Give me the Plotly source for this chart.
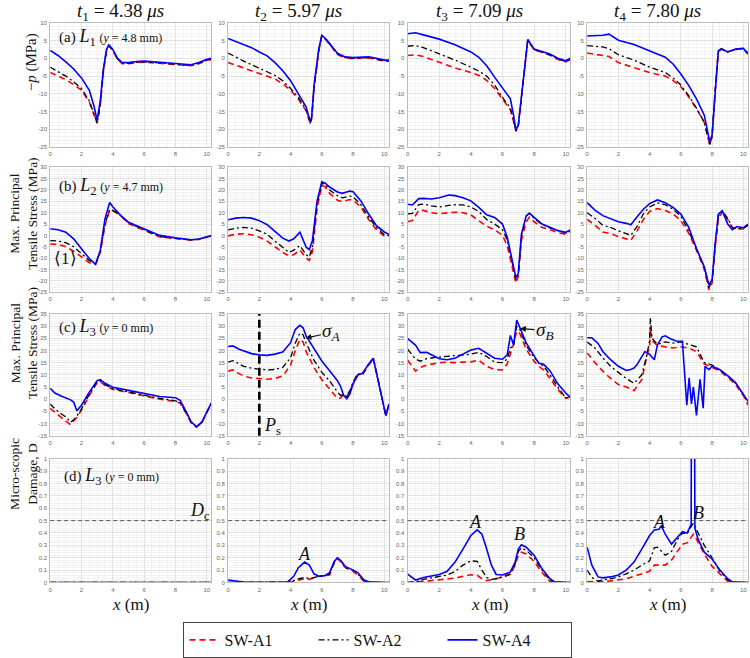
import plotly.graph_objects as go
from plotly.subplots import make_subplots

# ---------------- data ----------------
# row (a): -p (MPa) along L1
X_a1 = [0, 0.5, 1, 1.5, 2, 2.5, 2.8, 3.0, 3.2, 3.4, 3.6, 3.75, 4, 4.3, 4.6, 5, 5.5, 6, 7, 8, 8.5, 9, 9.5, 10, 10.3]
A4_a1 = [2.2, 0.8, -1, -3, -5.5, -9, -13.5, -17.5, -12, -3, 2.5, 3.8, 2.5, 0, -1.2, -1.2, -0.9, -0.8, -1.1, -1.5, -1.7, -1.8, -1.2, -0.3, 0]
A2_a1 = [-2.5, -3.7, -5, -6.6, -8.5, -12, -15.5, -18.2, -13, -3.5, 2.3, 3.6, 2.3, -0.2, -1.4, -1.4, -1.1, -1.0, -1.3, -1.7, -1.9, -2.0, -1.4, -0.5, -0.2]
A1_a1 = [-4, -5, -6, -7.4, -9, -12.3, -15.8, -18.3, -13.2, -3.7, 2.2, 3.5, 2.2, -0.3, -1.5, -1.5, -1.2, -1.1, -1.4, -1.8, -2.0, -2.1, -1.5, -0.6, -0.3]

X_a2 = [0, 0.5, 1, 1.5, 2, 2.5, 3, 3.5, 4, 4.5, 5, 5.25, 5.35, 5.5, 5.8, 6, 6.3, 7, 7.5, 8, 9, 9.5, 10, 10.3]
A4_a2 = [5.6, 4.8, 4.0, 3.0, 1.8, 0.7, -1.2, -3.5, -6.3, -10, -13.7, -17.7, -16.5, -7.7, 2.5, 6.5, 5.3, 1.4, 0.4, 0.2, 0.4, 0, -0.5, -0.5]
A2_a2 = [1.5, 0.3, -0.8, -1.8, -2.8, -3.8, -4.8, -6.3, -8.5, -11, -14.5, -18.3, -17, -8.5, 2, 6.3, 5.1, 1.2, 0.2, 0, 0.2, -0.2, -0.7, -0.7]
A1_a2 = [-1.2, -2, -2.8, -3.5, -4.2, -5, -5.8, -7.2, -9, -11.5, -14.8, -18.3, -17, -8.5, 2, 6.2, 5, 1.1, 0.1, -0.1, 0.1, -0.3, -0.8, -0.8]

X_a3 = [0, 0.5, 1, 2, 3, 4, 4.5, 5, 5.5, 6, 6.5, 6.7, 6.85, 7, 7.3, 7.6, 8, 9, 9.5, 10, 10.3]
A4_a3 = [6.9, 7.2, 6.6, 5.4, 3.8, 1.8, 0.3, -2.1, -5.3, -8.4, -11.4, -16, -20.2, -18.8, -5.8, 5.3, 2.6, 1.2, 0, -0.7, 0]
A2_a3 = [3.4, 3.6, 3.0, 1.3, -0.5, -2.5, -3.6, -5, -7.5, -11, -14, -17.5, -20.5, -19, -6, 5.2, 2.5, 1.0, -0.2, -0.9, -0.3]
A1_a3 = [0.8, 1.0, 0.5, -1.2, -2.7, -4.0, -4.8, -6.2, -8.5, -11.5, -14.5, -17.8, -20.5, -19, -6, 5.1, 2.4, 0.9, -0.3, -1.0, -0.3]

X_a4 = [0, 0.5, 1, 1.4, 2, 3, 4, 5, 5.5, 6, 6.5, 7, 7.5, 7.85, 8, 8.2, 8.4, 8.6, 9, 9.5, 10, 10.3]
A4_a4 = [6.3, 6.3, 6.5, 6.8, 5.1, 3.9, 2.1, 0.3, -1.6, -4.4, -7.6, -11.4, -16, -23.5, -21.6, -8.6, 2.1, 2.7, 1.8, 2.6, 2.8, 1.4]
A2_a4 = [3.6, 3.5, 3.2, 2.7, 1.0, -0.5, -2.5, -4.0, -5.5, -7.5, -10.5, -14, -18, -24.3, -22, -9, 2, 2.6, 1.8, 2.5, 2.8, 1.3]
A1_a4 = [1.5, 1.2, 0.9, 0.5, -1.2, -2.5, -4, -5, -6.2, -8, -10.8, -14.2, -18, -24.3, -22, -9, 2, 2.6, 1.8, 2.5, 2.7, 1.2]

# row (b): max principal tensile stress along L2
X_b1 = [0, 0.5, 1, 1.5, 2, 2.5, 2.9, 3.2, 3.5, 3.8, 4, 4.5, 5, 6, 7, 8, 9, 9.5, 10, 10.3]
A4_b1 = [2.9, 2.5, 1.4, -1.5, -5.9, -10.2, -12.7, -6.6, 7.2, 14.5, 12.6, 8.7, 5.8, 2.9, 0, -1.1, -1.9, -1.6, -0.7, 0]
A2_b1 = [-2.3, -2.5, -3.2, -5, -8, -11, -12.7, -7, 5, 11.5, 11, 9, 5.5, 2.5, -0.5, -1.3, -2.0, -1.7, -0.8, -0.1]
A1_b1 = [-3.8, -4, -5, -7, -9.5, -12, -12.7, -7.5, 4.5, 11, 10.8, 8.8, 5.2, 2.3, -0.7, -1.4, -2.1, -1.8, -0.9, -0.2]

X_b2 = [0, 0.5, 1, 1.5, 2, 2.5, 3, 3.5, 3.9, 4.2, 4.6, 5, 5.2, 5.4, 5.7, 6, 6.2, 6.5, 7, 7.3, 7.8, 8, 8.5, 9, 9.5, 10, 10.3]
A4_b2 = [6.9, 7.6, 7.9, 7.6, 6.5, 4.7, 1.8, -1.2, -2.5, -1.5, 1.4, -5.2, -6.3, -2.2, 15.2, 23.6, 23.1, 21.3, 19.1, 18.5, 19.5, 19.2, 15.2, 9.4, 4.3, 1.5, 0.5]
A2_b2 = [2.4, 3.2, 3.5, 3.2, 2, 0.5, -2.5, -5.5, -7.5, -6.5, -4.5, -8.5, -9.5, -5, 14, 23, 22.5, 20, 17.5, 16.5, 17.3, 17, 13.5, 8, 3.5, 0.3, 0]
A1_b2 = [-0.2, 0.5, 0.7, 0.3, -0.8, -2.5, -5, -7.5, -9, -8.5, -6.5, -10, -11, -7, 12, 22, 21.5, 18.5, 15.5, 14.8, 15.8, 15.5, 12.5, 7, 2.5, -0.3, -0.3]

X_b3 = [0, 0.3, 0.7, 1, 1.5, 2, 2.6, 3, 3.5, 4, 4.5, 5, 5.5, 6, 6.3, 6.6, 6.85, 7.0, 7.2, 7.5, 7.7, 8, 8.5, 9, 9.5, 10, 10.3]
A4_b3 = [13.7, 13.4, 16.2, 16.3, 16, 16.6, 17.8, 17.5, 16.6, 15.2, 12.3, 9.1, 7.9, 5.0, -0.8, -10.9, -18.7, -16.7, 0.7, 8.6, 9.8, 7.9, 5, 3.6, 2.1, 1.4, 2.4]
A2_b3 = [9.5, 9.7, 13.5, 13.8, 13, 12.5, 13.2, 13.5, 13.4, 12.5, 10.5, 7, 5, 2.5, -2, -12, -19.5, -17, 0, 8.5, 9.7, 7.5, 4.8, 3.3, 2, 1, 2]
A1_b3 = [6, 6.5, 11, 11, 10, 9.5, 10, 10.2, 10, 9, 6.5, 4, 2.5, 0, -4.5, -13, -21, -18, -2, 6, 8, 6, 3.5, 2.5, 1.2, 0.5, 2]

X_b4 = [0, 0.5, 1, 1.5, 2, 2.5, 2.8, 3.2, 3.6, 4, 4.5, 5, 5.5, 6, 6.5, 7, 7.5, 7.8, 8, 8.2, 8.4, 8.65, 9, 9.3, 9.6, 10, 10.3]
A4_b4 = [14.4, 11.1, 8.7, 7.2, 6.0, 5.3, 4.7, 8.2, 11.5, 14, 15.6, 14.4, 12.3, 9.4, 3.6, -5.8, -13.8, -21.8, -19.6, -3.7, 9.3, 10.8, 5, 2.5, 3.9, 3.3, 5]
A2_b4 = [10, 7.5, 4.5, 3.5, 2, 0.8, 0, 4, 9.5, 12.5, 14.3, 13.5, 11.5, 8.5, 2, -6, -14, -23, -20, -4, 8.5, 10.8, 7.5, 3.5, 3, 3, 4.5]
A1_b4 = [7, 4.5, 1.5, 0.8, -0.5, -1.5, -2.2, 2, 7, 10.5, 11.8, 11, 9.5, 6.5, 1, -6.5, -15, -24, -21, -5, 7, 10.5, 7, 3, 3, 2.8, 4.5]

# row (c): max principal tensile stress along L3
X_c1 = [0, 0.3, 0.7, 1, 1.3, 1.5, 1.7, 2, 2.5, 3, 3.2, 3.5, 4, 5, 6, 7, 8, 8.3, 8.7, 9, 9.35, 9.7, 10, 10.3]
A4_c1 = [4.5, 2.5, 1.3, 0.6, -0.3, -1.2, -4.8, -2.5, 2.9, 7.6, 8, 6.5, 4.9, 3.6, 2.2, 1.1, 0.6, -0.5, -5.3, -9.3, -11.3, -9.3, -5.3, -1.5]
A2_c1 = [-2, -4, -6, -7.3, -9.5, -8.5, -7, -4, 2, 7.2, 7.5, 6, 4.3, 3, 1.5, 0.3, -0.7, -1.3, -5.8, -9.5, -11.5, -9.5, -5.5, -1.7]
A1_c1 = [-3.8, -5.5, -7.5, -9, -10.5, -9, -7.5, -4.5, 1.5, 6.8, 7.2, 5.7, 4, 2.7, 1.2, 0, -1, -1.6, -6, -9.7, -11.5, -9.5, -5.5, -1.7]

X_c2 = [0, 0.3, 0.7, 1, 1.5, 2, 2.5, 3, 3.5, 4, 4.3, 4.6, 4.8, 5, 5.5, 6, 6.5, 7, 7.2, 7.4, 7.6, 7.8, 8, 8.3, 8.6, 9, 9.3, 9.6, 9.85, 10.1, 10.3]
A4_c2 = [21.6, 21.9, 20.5, 19.8, 18.7, 18.2, 18, 18.5, 19.4, 23.2, 28.6, 30.3, 29.3, 25.9, 20.5, 15.7, 11.7, 7.6, 5.3, 1.5, 0.2, 2.2, 6.3, 9.9, 10.6, 14.4, 16.6, 8, 0, -6.8, -2]
A2_c2 = [15.2, 15.8, 14.5, 13.5, 12.7, 12.2, 12, 12.2, 13, 17, 23, 27.2, 26.5, 23, 16, 11, 7.5, 3, 1.5, 2, 1, 3.5, 7, 10.5, 10, 14.5, 16.8, 8, 0, -6.8, -2]
A1_c2 = [11.5, 12, 10.5, 9.5, 8.7, 8.3, 8.2, 8.5, 9.5, 14, 20, 24.5, 23.5, 19.5, 13, 8, 4, 0.3, 0.5, 2, 1, 3.5, 6.5, 10, 10, 14, 16.8, 8, 0, -6.8, -2]

X_c3 = [0, 0.5, 0.8, 1.2, 1.6, 2, 2.5, 3, 3.5, 4, 4.5, 5, 5.5, 6, 6.3, 6.5, 6.7, 6.9, 7.1, 7.5, 8, 8.3, 8.6, 9, 9.5, 10, 10.3]
A4_c3 = [24.9, 22.2, 19.1, 19.2, 17.9, 16.6, 16.2, 16.8, 18.5, 20.2, 20.9, 18.8, 16.8, 16.4, 18.2, 26.2, 22.2, 32.5, 29.2, 23.1, 17.8, 14.7, 14.3, 11.7, 6.3, 2.5, 0.7]
A2_c3 = [20.5, 16.5, 15.6, 16.6, 17, 17.2, 17.6, 17.8, 18, 18.5, 19.2, 17.5, 15.2, 15, 16.5, 21, 22, 30, 28.5, 22, 17, 15, 13.5, 10, 5, 0.5, 1]
A1_c3 = [16, 11.5, 13, 14, 14.5, 15, 15.2, 15, 15.2, 15.3, 16, 13.5, 12.2, 12, 14.5, 18.5, 22.5, 28, 27, 20.5, 15.5, 13.5, 12, 8.5, 4, 0.3, 1]

X_c4 = [0, 0.5, 1, 1.5, 2, 2.5, 3, 3.5, 3.8, 4, 4.05, 4.15, 4.5, 5, 5.5, 6, 6.5, 7, 7.5, 8, 8.5, 9, 9.5, 10, 10.3]
A2_c4 = [23.5, 21, 17, 13.5, 11, 8.5, 6.5, 10, 17.5, 24, 33.5, 25, 22.5, 23.5, 23, 23.5, 22.5, 21.5, 15, 14, 12, 9.5, 6.5, 2, -1.5]
A1_c4 = [19, 15, 11.5, 8.5, 6, 5, 3.5, 8, 17, 22, 29, 24, 22, 21.5, 21, 21.5, 21, 19.5, 14.5, 13, 11.5, 9, 6, 1.5, -2.5]
XB_c4 = [0, 0.3, 0.7, 1, 1.5, 2, 2.5, 2.8, 3, 3.2, 3.5, 3.7, 4, 4.3, 4.5, 4.8, 5, 5.3, 5.7, 6.1, 6.38, 6.53, 6.68, 6.8, 7.0, 7.23, 7.43, 7.55, 7.8, 8, 8.5, 9, 9.5, 10, 10.3]
A4_c4 = [25.2, 25.2, 22.9, 19.6, 16.2, 13.5, 11.8, 12.2, 12.8, 14.2, 17.5, 19.5, 18.4, 16.2, 22.2, 25.6, 26, 24.9, 23.9, 23.8, -2.5, 8.8, -2, 5, -6.7, 8.1, -3.7, 13.5, 12.1, 13.5, 12.1, 9.7, 6.8, 2.1, -0.9]

# row (d): microscopic damage D along L3
X_d1 = [0, 2, 4, 6, 8, 10.3]
A4_d1 = [0, 0, 0, 0, 0, 0]
A2_d1 = [0, 0, 0, 0, 0, 0]
A1_d1 = [0, 0, 0, 0, 0, 0]

X_d2 = [0, 0.3, 0.7, 1, 2, 3, 3.8, 4.2, 4.5, 4.9, 5.2, 5.5, 5.8, 6.2, 6.5, 6.8, 7, 7.2, 7.5, 8, 8.3, 8.7, 9, 10, 10.3]
A4_d2 = [0.02, 0.015, 0.005, 0.003, 0, 0, 0.003, 0.05, 0.12, 0.165, 0.14, 0.07, 0.05, 0.055, 0.08, 0.17, 0.2, 0.18, 0.13, 0.1, 0.08, 0.02, 0.005, 0, 0]
A2_d2 = [0, 0, 0, 0, 0, 0, 0.003, 0.015, 0.03, 0.04, 0.03, 0.04, 0.05, 0.055, 0.07, 0.17, 0.2, 0.18, 0.12, 0.1, 0.07, 0.015, 0.002, 0, 0]
A1_d2 = [0, 0, 0, 0, 0, 0, 0.002, 0.01, 0.02, 0.03, 0.025, 0.035, 0.05, 0.055, 0.06, 0.16, 0.19, 0.17, 0.12, 0.09, 0.06, 0.01, 0, 0, 0]

X_d3 = [0, 0.5, 1, 1.5, 2, 2.5, 3, 3.5, 4, 4.4, 4.7, 5, 5.3, 5.6, 6, 6.5, 6.8, 7.0, 7.2, 7.5, 8, 8.5, 9, 9.3, 10, 10.3]
A4_d3 = [0.067, 0.02, 0.04, 0.055, 0.065, 0.09, 0.165, 0.27, 0.38, 0.425, 0.39, 0.27, 0.14, 0.065, 0.06, 0.085, 0.165, 0.27, 0.305, 0.285, 0.22, 0.11, 0.03, 0.005, 0, 0]
A2_d3 = [0, 0.005, 0.025, 0.035, 0.045, 0.06, 0.09, 0.14, 0.175, 0.17, 0.1, 0.04, 0.025, 0.03, 0.045, 0.07, 0.15, 0.25, 0.28, 0.26, 0.2, 0.1, 0.02, 0.003, 0, 0]
A1_d3 = [0, 0.002, 0.01, 0.015, 0.02, 0.025, 0.035, 0.05, 0.062, 0.058, 0.03, 0.015, 0.02, 0.03, 0.045, 0.065, 0.14, 0.22, 0.245, 0.23, 0.17, 0.08, 0.01, 0, 0, 0]

X_d4 = [0, 0.3, 0.7, 1, 1.5, 2, 2.5, 3, 3.5, 4, 4.3, 4.5, 4.7, 5, 5.4, 5.8, 6.1, 6.4, 6.8, 7.0, 7.5, 8, 8.5, 9, 9.3, 10, 10.3]
A2_d4 = [0.1, 0.04, 0.01, 0.02, 0.03, 0.045, 0.07, 0.1, 0.14, 0.175, 0.28, 0.285, 0.26, 0.22, 0.25, 0.35, 0.4, 0.395, 0.48, 0.43, 0.3, 0.2, 0.09, 0.02, 0.003, 0, 0]
A1_d4 = [0.005, 0.005, 0.005, 0.01, 0.012, 0.02, 0.03, 0.05, 0.07, 0.09, 0.14, 0.14, 0.14, 0.14, 0.18, 0.26, 0.31, 0.32, 0.39, 0.35, 0.23, 0.13, 0.07, 0.01, 0, 0, 0]
XB_d4 = [0, 0.3, 0.7, 1, 1.5, 2, 2.5, 3, 3.5, 4, 4.3, 4.6, 4.75, 5, 5.4, 5.8, 6.1, 6.4, 6.66, 6.68, 6.87, 6.9, 7.1, 7.5, 8, 8.5, 9, 9.3, 10, 10.3]
A4_d4 = [0.285, 0.14, 0.045, 0.037, 0.045, 0.06, 0.1, 0.165, 0.27, 0.38, 0.425, 0.43, 0.46, 0.39, 0.31, 0.365, 0.41, 0.4, 0.47, 1.6, 1.6, 0.44, 0.35, 0.245, 0.19, 0.1, 0.03, 0.005, 0, 0]

col_titles = ["<i>t</i><sub>1</sub> = 4.38 <i>μs</i>", "<i>t</i><sub>2</sub> = 5.97 <i>μs</i>",
              "<i>t</i><sub>3</sub> = 7.09 <i>μs</i>", "<i>t</i><sub>4</sub> = 7.80 <i>μs</i>"]
y_ranges = [(-25, 10), (-25, 30), (-15, 35), (0, 1)]

panels = [
    [(X_a1, A1_a1, A2_a1, X_a1, A4_a1), (X_a2, A1_a2, A2_a2, X_a2, A4_a2),
     (X_a3, A1_a3, A2_a3, X_a3, A4_a3), (X_a4, A1_a4, A2_a4, X_a4, A4_a4)],
    [(X_b1, A1_b1, A2_b1, X_b1, A4_b1), (X_b2, A1_b2, A2_b2, X_b2, A4_b2),
     (X_b3, A1_b3, A2_b3, X_b3, A4_b3), (X_b4, A1_b4, A2_b4, X_b4, A4_b4)],
    [(X_c1, A1_c1, A2_c1, X_c1, A4_c1), (X_c2, A1_c2, A2_c2, X_c2, A4_c2),
     (X_c3, A1_c3, A2_c3, X_c3, A4_c3), (X_c4, A1_c4, A2_c4, XB_c4, A4_c4)],
    [(X_d1, A1_d1, A2_d1, X_d1, A4_d1), (X_d2, A1_d2, A2_d2, X_d2, A4_d2),
     (X_d3, A1_d3, A2_d3, X_d3, A4_d3), (X_d4, A1_d4, A2_d4, XB_d4, A4_d4)],
]

# ---------------- layout helpers (pixels of the 750x658 page) ----------------
W, H = 750, 658
col_px = [(48.3, 210), (226.7, 388), (406.7, 570), (586.7, 748)]
row_px = [(20, 145.7), (166, 292.3), (314.3, 437.3), (460.7, 585.7)]
SERIF = "Liberation Serif"


def px(x):
    return x / W


def py(y):
    return 1 - y / H


def label(text, x, y, size, **kw):
    d = dict(text=text, x=px(x), y=py(y), xref="paper", yref="paper",
             xanchor="center", yanchor="middle", showarrow=False,
             font=dict(family=SERIF, size=size, color="#111"))
    d.update(kw)
    return d


styles = [("SW-A1", "#ff0000", "6px,4px", 1.6),
          ("SW-A2", "#000000", "6px,3px,2px,3px", 1.3),
          ("SW-A4", "#0000ff", "solid", 1.6)]

fig = make_subplots(rows=4, cols=4)

for r in range(4):
    for c in range(4):
        xs, a1, a2, xb, a4 = panels[r][c]
        for (name, color, dash, w), (x, y) in zip(styles, [(xs, a1), (xs, a2), (xb, a4)]):
            fig.add_trace(go.Scatter(x=x, y=y, mode="lines", name=name,
                                     line=dict(color=color, dash=dash, width=w),
                                     showlegend=(r == 0 and c == 0)),
                          row=r + 1, col=c + 1)

# axes
axis_common = dict(showline=True, mirror=True, linecolor="#bcbcbc", linewidth=1,
                   showgrid=True, gridcolor="#e2e2e2", gridwidth=0.8, zeroline=False,
                   ticks="", ticklabelstandoff=1,
                   tickfont=dict(size=6, color="#666666", family="Liberation Sans"))
for r in range(4):
    lo, hi = y_ranges[r]
    if r == 3:
        yt = [i / 10 for i in range(11)]
        ytt = ["0"] + [f"{v:.1f}" for v in yt[1:-1]] + ["1"]
        ymin = 0.02
    else:
        yt = list(range(lo, hi + 1, 5))
        ytt = [str(v) for v in yt]
        ymin = 1
    for c in range(4):
        n = r * 4 + c + 1
        sfx = "" if n == 1 else str(n)
        x0, x1 = col_px[c]
        t, b = row_px[r]
        fig.layout["xaxis" + sfx].update(
            domain=[px(x0), px(x1)], range=[0, 10.3],
            tickvals=[0, 2, 4, 6, 8, 10], ticktext=["0", "2", "4", "6", "8", "10"],
            minor=dict(dtick=0.5, tick0=0, showgrid=True, gridcolor="#f2f2f2"),
            **axis_common)
        fig.layout["yaxis" + sfx].update(
            domain=[py(b), py(t)], range=[lo, hi],
            tickvals=yt, ticktext=ytt,
            minor=dict(dtick=ymin, tick0=0, showgrid=True, gridcolor="#f2f2f2"),
            **axis_common)

ann = []
# column titles and x titles
for c in range(4):
    mid = (col_px[c][0] + col_px[c][1]) / 2
    ann.append(label(col_titles[c], mid - 10, 9, 19))
    ann.append(label("<i>x</i> (m)", mid, 608, 17))

# y titles
ytitles = [("−<i>p</i> (MPa)", 29, 60, 15),
           ("Max. Principal<br>Tensile Stress (MPa)", 22, 213, 13.5),
           ("Max. Principal<br>Tensile Stress (MPa)", 22, 344, 13.5),
           ("Micro-scopic<br>Damage, D", 22, 476, 13.5)]
for txt, xx, yy, fs in ytitles:
    ann.append(label(txt, xx, yy, fs, textangle=-90))

# panel labels
panel_labels = [
    ("(a) <span style='font-size:18px'><i>L</i><sub>1</sub></span> <span style='font-size:12px'>(<i>y</i> = 4.8 mm)</span>", 55, 35),
    ("(b) <span style='font-size:18px'><i>L</i><sub>2</sub></span> <span style='font-size:12px'>(<i>y</i> = 4.7 mm)</span>", 55, 185),
    ("(c) <span style='font-size:18px'><i>L</i><sub>3</sub></span> <span style='font-size:12px'>(<i>y</i> = 0 mm)</span>", 55, 328),
    ("(d) <span style='font-size:18px'><i>L</i><sub>3</sub></span> <span style='font-size:12px'>(<i>y</i> = 0 mm)</span>", 60, 479),
]
for txt, xx, yy in panel_labels:
    ann.append(label(txt, xx, yy, 15, xanchor="left"))

# other text marks
marks = [("⟨1⟩", 64, 258, 17),
         ("<i>P</i><sub>s</sub>", 271, 428, 18),
         ("<i>D</i><sub>c</sub>", 199, 514, 18),
         ("<i>A</i>", 303, 557, 18),
         ("<i>A</i>", 475, 525, 18),
         ("<i>B</i>", 519, 537, 18),
         ("<i>A</i>", 659, 525, 18),
         ("<i>B</i>", 698, 515, 18)]
for txt, xx, yy, fs in marks:
    ann.append(label(txt, xx, yy, fs))

# arrows to the stress peaks
ann.append(dict(text="<i>σ</i><sub><i>A</i></sub>", x=4.95, y=25, xref="x10", yref="y10",
                ax=26, ay=-6, showarrow=True, arrowhead=2, arrowsize=1, arrowwidth=1.2,
                arrowcolor="#111", font=dict(family=SERIF, size=19, color="#111")))
ann.append(dict(text="<i>σ</i><sub><i>B</i></sub>", x=7.1, y=29, xref="x11", yref="y11",
                ax=25, ay=2, showarrow=True, arrowhead=2, arrowsize=1, arrowwidth=1.2,
                arrowcolor="#111", font=dict(family=SERIF, size=19, color="#111")))

shapes = [dict(type="line", xref="x10", yref="y10 domain", x0=2, x1=2, y0=0, y1=1,
               line=dict(color="#000", width=2.6, dash="8px,4px"))]
for n in (13, 14, 15, 16):
    shapes.append(dict(type="line", xref=f"x{n} domain", yref=f"y{n}", x0=0, x1=1, y0=0.5, y1=0.5,
                       line=dict(color="#555", width=1, dash="4px,3px")))

fig.update_layout(
    width=W, height=H, margin=dict(l=0, r=0, t=0, b=0),
    paper_bgcolor="white", plot_bgcolor="white",
    annotations=ann, shapes=shapes,
    legend=dict(orientation="h", x=px(377), xanchor="center", y=py(626), yanchor="top",
                bordercolor="#444", borderwidth=1, bgcolor="white",
                font=dict(family=SERIF, size=16, color="#111"),
                entrywidth=84, itemwidth=30),
)

# the page body has a default 8px margin; drop it so the figure fills the window
fig.write_html("out.html", config={"displayModeBar": False},
               post_script="document.body.style.margin='0px';")
